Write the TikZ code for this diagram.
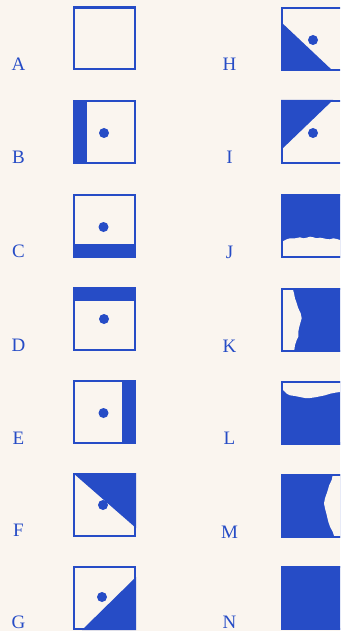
\documentclass[tikz,border=0pt]{standalone}
\usepackage{fontspec}
\setmainfont{Liberation Serif}
\definecolor{fig}{RGB}{38,76,198}
\definecolor{paper}{RGB}{250,245,239}
\begin{document}
\begin{tikzpicture}[x=1pt,y=-1pt,
  boxframe/.style={draw=fig, line width=2.2pt, inner sep=0pt, outer sep=0pt,
    minimum width=60.8pt, minimum height=61.8pt},
  solidpart/.style={fill=fig},
  gap/.style={fill=paper},
  spot/.style={circle, fill=fig, inner sep=0pt, minimum size=10pt},
  lab/.style={text=fig, font=\fontsize{19}{19}\selectfont, anchor=base, inner sep=0pt}]
\clip (0,0) rectangle (340,631);
\fill[paper] (0,0) rectangle (340,631);

% ---------- fills ----------
\fill[solidpart] (73,100) rectangle (87,164);                 % B
\fill[solidpart] (73,243.5) rectangle (136,257.5);            % C
\fill[solidpart] (73,287) rectangle (136,301);                % D
\fill[solidpart] (122,380) rectangle (136,444);               % E
\fill[solidpart] (73,473) -- (136,473) -- (136,528) -- cycle; % F
\fill[solidpart] (136,577) -- (136,630) -- (82,630) -- cycle; % G
\fill[solidpart] (281,22) -- (281,71) -- (333,71) -- cycle;   % H
\fill[solidpart] (281,100) -- (333,100) -- (281,150) -- cycle;% I
% J
\fill[solidpart] (281,194) rectangle (344,258);
\fill[gap] (282,258) -- (282,241.7) -- (286.7,239.3) -- (290,238.3) -- (295,238.3)
  -- (300,237.3) -- (303.3,238.3) -- (306.7,237.7) -- (310,236.7) -- (313.3,237.3)
  -- (316.7,238.3) -- (320,237.7) -- (323.3,238.3) -- (326.7,239) -- (330,239.3)
  -- (333.3,238.3) -- (336.7,239) -- (340,240) -- (344,240.5) -- (344,258) -- cycle;
% K
\fill[solidpart] (281,288) rectangle (344,352);
\fill[gap] (281,288) -- (292.5,288) -- (294,293.3) -- (295,298.3) -- (296.7,303.3)
  -- (298.3,308.3) -- (300.7,313.3) -- (301.7,318.3) -- (300.7,321.7) -- (299.3,326.7)
  -- (298.3,331.7) -- (298.3,336.7) -- (296.7,340) -- (295,345) -- (294,352)
  -- (281,352) -- cycle;
% L
\fill[solidpart] (281,380.5) rectangle (344,444.5);
\fill[gap] (281,380.5) -- (281,389) -- (283.3,390.3) -- (286.7,393.7) -- (290,395.3)
  -- (295,396) -- (300,397) -- (305,398) -- (310,398) -- (315,397.3) -- (320,396.3)
  -- (325,395.3) -- (330,393.7) -- (335,392.7) -- (340,392) -- (344,391.5)
  -- (344,380.5) -- cycle;
% M
\fill[solidpart] (281,474) rectangle (344,538);
\fill[gap] (333,474) -- (332.7,475) -- (331.7,480) -- (329.3,485) -- (327.3,491.7)
  -- (325,498.3) -- (324,503.3) -- (325,508.3) -- (326.7,515) -- (328.3,521.7)
  -- (330,526.7) -- (332.7,531.7) -- (334,535.7) -- (334.5,538) -- (344,538)
  -- (344,474) -- cycle;
% N
\fill[solidpart] (281,566) rectangle (344,630);

% ---------- frames ----------
\node[boxframe] (bA) at (104.5,38.5) {};
\node[boxframe] (bB) at (104.5,132) {};
\node[boxframe] (bC) at (104.5,225.5) {};
\node[boxframe] (bD) at (104.5,319) {};
\node[boxframe] (bE) at (104.5,412) {};
\node[boxframe] (bF) at (104.5,505) {};
\node[boxframe] (bG) at (104.5,598) {};
\node[boxframe] (bH) at (312.5,39) {};
\node[boxframe] (bI) at (312.5,132) {};
\node[boxframe] (bJ) at (312.5,226) {};
\node[boxframe] (bK) at (312.5,320) {};
\node[boxframe] (bL) at (312.5,412.5) {};
\node[boxframe] (bM) at (312.5,506) {};
\node[boxframe] (bN) at (312.5,598) {};

% ---------- dots ----------
\node[spot] (dB) at (104,133) {};
\node[spot] (dC) at (103.5,227) {};
\node[spot] (dD) at (104,319) {};
\node[spot] (dE) at (103.5,413) {};
\node[spot] (dF) at (103,505) {};
\node[spot] (dG) at (102,597) {};
\node[spot] (dH) at (313,40) {};
\node[spot] (dI) at (313,133) {};

% ---------- labels ----------
\node[lab] (lA) at (18.5,71) {A};
\node[lab] (lB) at (18.5,164) {B};
\node[lab] (lC) at (18.5,257.5) {C};
\node[lab] (lD) at (18.5,351) {D};
\node[lab] (lE) at (18.5,444) {E};
\node[lab] (lF) at (18.5,536) {F};
\node[lab] (lG) at (18.5,628) {G};
\node[lab] (lH) at (229.5,71) {H};
\node[lab] (lI) at (229.5,164) {I};
\node[lab] (lJ) at (229.5,258) {J};
\node[lab] (lK) at (229.5,352) {K};
\node[lab] (lL) at (229.5,444.5) {L};
\node[lab] (lM) at (229.5,538) {M};
\node[lab] (lN) at (229.5,628) {N};
\end{tikzpicture}
\end{document}
